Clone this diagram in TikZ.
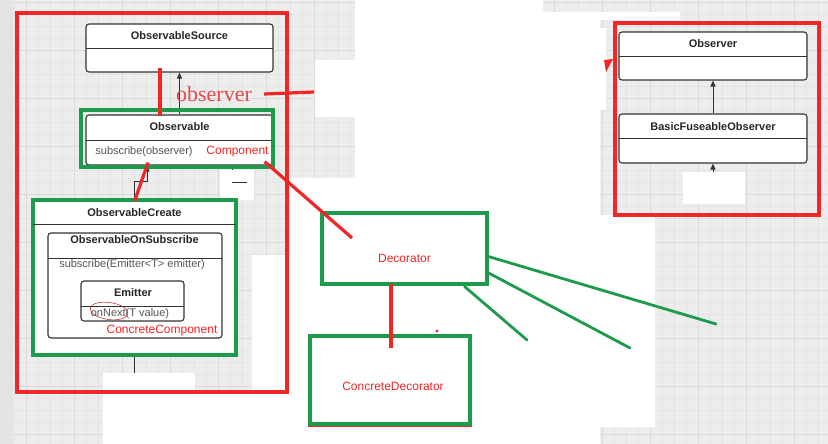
\documentclass[tikz,border=0pt]{standalone}
\usepackage{fontspec}
\setmainfont{Liberation Sans}
\newfontfamily\markserif{Liberation Serif}
\usetikzlibrary{arrows.meta}

\definecolor{gridbg}{HTML}{EDEDED}
\definecolor{gridmin}{HTML}{E3E3E3}
\definecolor{gridmaj}{HTML}{DADADA}
\definecolor{sidebar}{HTML}{E3E3E3}
\definecolor{markred}{HTML}{F22626}
\definecolor{softred}{HTML}{E44A4A}
\definecolor{markgreen}{HTML}{1E9A4C}
\definecolor{umlline}{HTML}{333333}
\definecolor{umltext}{HTML}{555555}

\tikzset{
  umlbox/.style={draw=umlline,line width=1.1pt,rounded corners=3pt,fill=white,inner sep=0pt},
  umltitle/.style={font=\fontsize{11}{13}\selectfont\bfseries,text=black!85},
  umlop/.style={font=\fontsize{11}{13}\selectfont,text=umltext},
  umlsep/.style={draw=umlline,line width=0.9pt},
  umlarrow/.style={draw=umlline,line width=1pt,-{Triangle[length=6pt,width=5pt]}},
  redbox/.style={draw=markred,line width=3.2pt},
  greenbox/.style={draw=markgreen,line width=3.3pt},
  redmark/.style={draw=markred,line width=3.2pt},
  greenmark/.style={draw=markgreen,line width=2.8pt,line cap=round},
  redlabel/.style={font=\fontsize{12}{14}\selectfont,text=markred,inner sep=1pt},
}

\begin{document}
\begin{tikzpicture}[x=1pt,y=-1pt]
\useasboundingbox (0,0) rectangle (828,444);
% background grid:
\path[fill=gridbg] (0,0) rectangle (828,444);
\foreach \gx in {2,14,...,830} \path[draw=gridmin,line width=0.5pt] (\gx,0) -- (\gx,444);
\foreach \gy in {2,14,...,446} \path[draw=gridmin,line width=0.5pt] (0,\gy) -- (828,\gy);
\foreach \gx in {26,74,...,830} \path[draw=gridmaj,line width=0.7pt] (\gx,0) -- (\gx,444);
\foreach \gy in {2,50,...,446} \path[draw=gridmaj,line width=0.7pt] (0,\gy) -- (828,\gy);
\path[fill=sidebar] (0,0) rectangle (13,444);
% white patches of the screenshot:
\path[fill=white] (355,0) -- (543,0) -- (543,12) -- (680,12) -- (680,20) -- (600,20)
  -- (600,215) -- (655,215) -- (655,427) -- (600,427) -- (600,444) -- (103,444)
  -- (103,373) -- (195,373) -- (195,393) -- (252,393) -- (252,255) -- (290,255)
  -- (290,178) -- (355,178) -- cycle;
\path[fill=white] (315,60) rectangle (355,117);
\path[fill=white] (600,28) rectangle (606,110);
\path[fill=white] (220,170) rectangle (254,200);

% left group:
\node[umlbox,minimum width=187pt,minimum height=48pt] (src) at (179.5,48) {};
\path[umlsep] (86,48) -- (273,48);
\node[umltitle] at (179.5,36) {ObservableSource};
\node[umlbox,minimum width=187pt,minimum height=50pt] (obs) at (179.5,140) {};
\path[umlsep] (86,140) -- (273,140);
\node[umltitle] at (179.5,127) {Observable};
\node[umlop] at (144,152) {subscribe(observer)};
\node[draw=markgreen,line width=3.3pt,fill=white,minimum width=203pt,minimum height=155pt,inner sep=0pt] (create) at (134.5,277.5) {};
\path[umlsep] (33,224) -- (236,224);
\node[umltitle] at (134.5,213) {ObservableCreate};
\node[umlbox,minimum width=174pt,minimum height=105pt] (onsub) at (135,285.5) {};
\path[umlsep] (48,258) -- (222,258);
\node[umltitle] at (134.5,240) {ObservableOnSubscribe};
\node[umlop] at (132,265) {subscribe(Emitter<T> emitter)};
\node[umlbox,minimum width=103pt,minimum height=40pt] (emitter) at (132.5,301) {};
\path[umlsep] (81,306) -- (184,306);
\node[umltitle] at (133,293) {Emitter};
\node[umlop] at (130,314) {onNext(T value)};
\path[draw=markred!75!black,line width=0.5pt,rotate around={-8:(109,311)}] (109,311) ellipse [x radius=19pt,y radius=8.5pt];

\path[umlarrow] (obs.north) -- (src.south);
\path[umlarrow] (create.north) -- ++(0,-17) -| ([xshift=-32.5pt]obs.south);
\coordinate (createtail) at (134.5,373);
\path[draw=umlline,line width=1pt] (create.south) -- (createtail);
\coordinate (obsstub) at (232,170);
\path[draw=umlline,line width=1pt] ([xshift=52.5pt]obs.south) -- (obsstub);
\path[draw=umlline,line width=1pt] (232,182) -- (247,182);

% right group:
\node[umlbox,minimum width=188pt,minimum height=48pt] (observer) at (713,56) {};
\path[umlsep] (619,56) -- (807,56);
\node[umltitle] at (713,44) {Observer};
\node[umlbox,minimum width=188pt,minimum height=49pt] (basic) at (713,138.5) {};
\path[umlsep] (619,138) -- (807,138);
\node[umltitle] at (713,127) {BasicFuseableObserver};
\path[umlarrow] (basic.north) -- (observer.south);
\coordinate (basictail) at (713,190);
\path[umlarrow] (basictail) -- (basic.south);
\path[fill=white] (683,172) rectangle (745,204);

% decorator boxes:
\node[draw=markred,line width=1.5pt,minimum width=162pt,minimum height=88pt,inner sep=0pt] at (390,382) {};
\node[draw=markred!60!brown,line width=1.2pt,minimum width=165pt,minimum height=72pt,inner sep=0pt] at (404.5,249) {};
\node[greenbox,fill=white,minimum width=165pt,minimum height=71pt,inner sep=0pt] (deco) at (404.5,248.5) {};
\node[redlabel] at (404.5,258) {Decorator};
\node[greenbox,fill=white,minimum width=160pt,minimum height=88pt,inner sep=0pt] (cdeco) at (390,380) {};
\node[redlabel] at (393,386) {ConcreteDecorator};

% red marks:
\path[redbox] (17,13) rectangle (287,392);
\path[redbox] (615,23) rectangle (819,215);
\path[greenbox] (81,110) rectangle (273,167);
\node[redlabel] (complabel) at (237.5,152) {Component};
\node[redlabel] at (162,331) {ConcreteComponent};
\node[font=\markserif\fontsize{22}{24}\selectfont,text=softred,inner sep=1pt] (obslabel) at (214,94) {observer};
\path[redmark] ([xshift=-19.5pt,yshift=5pt]src.south) -- ([xshift=-19.5pt,yshift=-2pt]obs.north);
\coordinate (obsmark) at (314,92);
\path[redmark] ([xshift=11pt]obslabel.east) -- (obsmark);
\path[fill=markred] (604,60) -- (613,59) -- (606,72) -- cycle;
\path[redmark] ([xshift=-31.5pt,yshift=3pt]obs.south) -- ([yshift=-3pt]create.north);
\coordinate (decomark) at (352,238);
\path[redmark] ([xshift=-5pt,yshift=-3pt]complabel.south east) -- (decomark);
\path[redmark] ([xshift=-13.5pt,yshift=2pt]deco.south) -- ([xshift=1pt,yshift=-14pt]cdeco.north);
\path[fill=markred] (437,331) circle (1.7pt);

% green marks:
\coordinate (gend1) at (716,324);
\coordinate (gend2) at (630,348);
\coordinate (gend3) at (527,340);
\path[greenmark] ([xshift=-2pt,yshift=-7.5pt]deco.east) -- (gend1);
\path[greenmark] ([yshift=-24.5pt]deco.east) -- (gend2);
\path[greenmark] ([xshift=-24pt,yshift=-1pt]deco.south east) -- (gend3);
\end{tikzpicture}
\end{document}
